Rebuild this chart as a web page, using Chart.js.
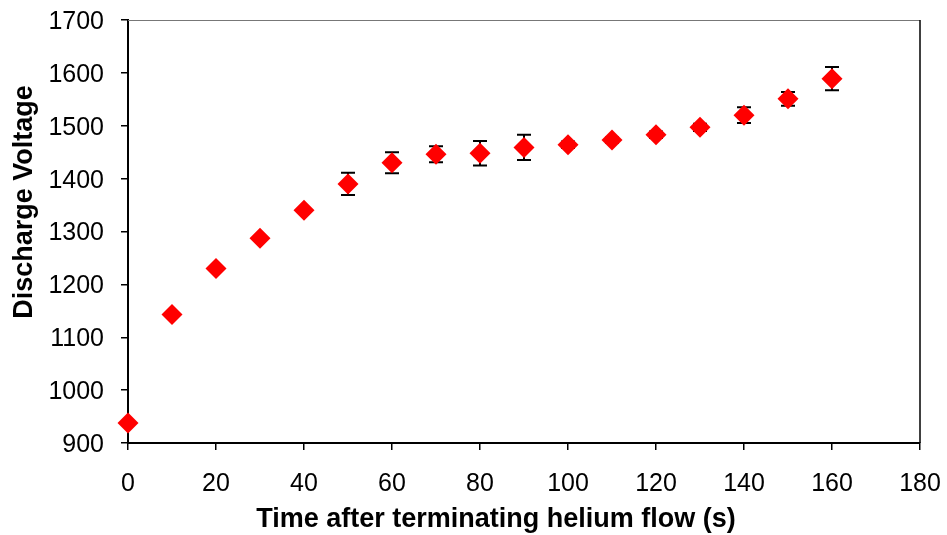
<!DOCTYPE html>
<html>
<head>
<meta charset="utf-8">
<script src="https://cdn.jsdelivr.net/npm/chart.js@4"></script>
<style>
  html, body { margin: 0; padding: 0; background: #fff; }
  #wrap { width: 947px; height: 535px; position: relative; }
</style>
</head>
<body>
<div id="wrap"><canvas id="chart"></canvas></div>
<script>
// time after terminating helium flow (s)
const times = [0, 10, 20, 30, 40, 50, 60, 70, 80, 90, 100, 110, 120, 130, 140, 150, 160];
// discharge voltage
const voltages = [938, 1143, 1230, 1287, 1340, 1390, 1430, 1446, 1448, 1459, 1464, 1473, 1483, 1497, 1520, 1551, 1589];
// +/- error
const errors = [2, 3, 3, 3, 3, 21, 20, 15, 23, 24, 6, 5, 6, 7, 15, 13, 22];

const xTicks = [0, 20, 40, 60, 80, 100, 120, 140, 160, 180];
const yTicks = [900, 1000, 1100, 1200, 1300, 1400, 1500, 1600, 1700];

const xTitle = 'Time after terminating helium flow (s)';
const yTitle = 'Discharge Voltage';

const FONT = '"Liberation Sans", Arial, sans-serif';

// error bars drawn under the markers
const errorBars = {
  id: 'errorBars',
  beforeDatasetsDraw(chart) {
    const { ctx, scales: { x, y } } = chart;
    ctx.save();
    ctx.strokeStyle = '#000';
    ctx.lineWidth = 2;
    times.forEach((t, i) => {
      const px = x.getPixelForValue(t);
      const top = y.getPixelForValue(voltages[i] + errors[i]);
      const bot = y.getPixelForValue(voltages[i] - errors[i]);
      ctx.beginPath();
      ctx.moveTo(px, top); ctx.lineTo(px, bot);
      ctx.moveTo(px - 7, top); ctx.lineTo(px + 7, top);
      ctx.moveTo(px - 7, bot); ctx.lineTo(px + 7, bot);
      ctx.stroke();
    });
    ctx.restore();
  }
};

// top and right frame of the plot area
const frame = {
  id: 'frame',
  beforeDatasetsDraw(chart) {
    const { ctx, chartArea: a } = chart;
    ctx.save();
    ctx.lineWidth = 1;
    ctx.strokeStyle = '#777';
    ctx.beginPath();
    ctx.moveTo(a.left, a.top + 0.5); ctx.lineTo(a.right, a.top + 0.5);
    ctx.stroke();
    ctx.lineWidth = 1.5;
    ctx.strokeStyle = '#000';
    ctx.beginPath();
    ctx.moveTo(a.right, a.top); ctx.lineTo(a.right, a.bottom);
    ctx.stroke();
    ctx.restore();
  }
};

// axis titles, placed where the original had them (not centred on the plot)
const axisTitles = {
  id: 'axisTitles',
  afterDraw(chart) {
    const { ctx } = chart;
    ctx.save();
    ctx.fillStyle = '#000';
    ctx.font = 'bold 27px ' + FONT;
    ctx.textAlign = 'center';
    ctx.textBaseline = 'middle';
    ctx.fillText(xTitle, 496, 520);
    ctx.translate(25, 202);
    ctx.rotate(-Math.PI / 2);
    ctx.fillText(yTitle, 0, 0);
    ctx.restore();
  }
};

new Chart(document.getElementById('chart'), {
  type: 'scatter',
  data: {
    datasets: [{
      data: times.map((t, i) => ({ x: t, y: voltages[i] })),
      pointStyle: 'rectRot',
      pointRadius: 10.5,
      backgroundColor: '#ff0000',
      borderColor: '#ff0000',
      borderWidth: 0,
      clip: false
    }]
  },
  options: {
    responsive: true,
    maintainAspectRatio: false,
    animation: false,
    layout: { padding: { top: 20, right: 27, left: 0, bottom: 0 } },
    plugins: { legend: { display: false }, tooltip: { enabled: false } },
    scales: {
      x: {
        type: 'linear',
        min: 0, max: 180,
        afterBuildTicks: s => { s.ticks = xTicks.map(v => ({ value: v })); },
        afterFit: s => { s.height = 92; s.paddingLeft = 0; s.paddingRight = 0; },
        grid: { display: true, drawOnChartArea: false, drawTicks: true, tickLength: 7, color: '#000', lineWidth: 1.5 },
        border: { display: true, color: '#000', width: 2 },
        ticks: { color: '#000', font: { family: FONT, size: 25 }, padding: 19, maxRotation: 0, callback: v => v }
      },
      y: {
        min: 900, max: 1700,
        afterBuildTicks: s => { s.ticks = yTicks.map(v => ({ value: v })); },
        afterFit: s => { s.width = 128; s.paddingTop = 0; s.paddingBottom = 0; },
        grid: { display: true, drawOnChartArea: false, drawTicks: true, tickLength: 7, color: '#000', lineWidth: 1.5 },
        border: { display: true, color: '#000', width: 2 },
        ticks: { color: '#000', font: { family: FONT, size: 25 }, padding: 17, labelOffset: 2, callback: v => v }
      }
    }
  },
  plugins: [frame, errorBars, axisTitles]
});
</script>
</body>
</html>
